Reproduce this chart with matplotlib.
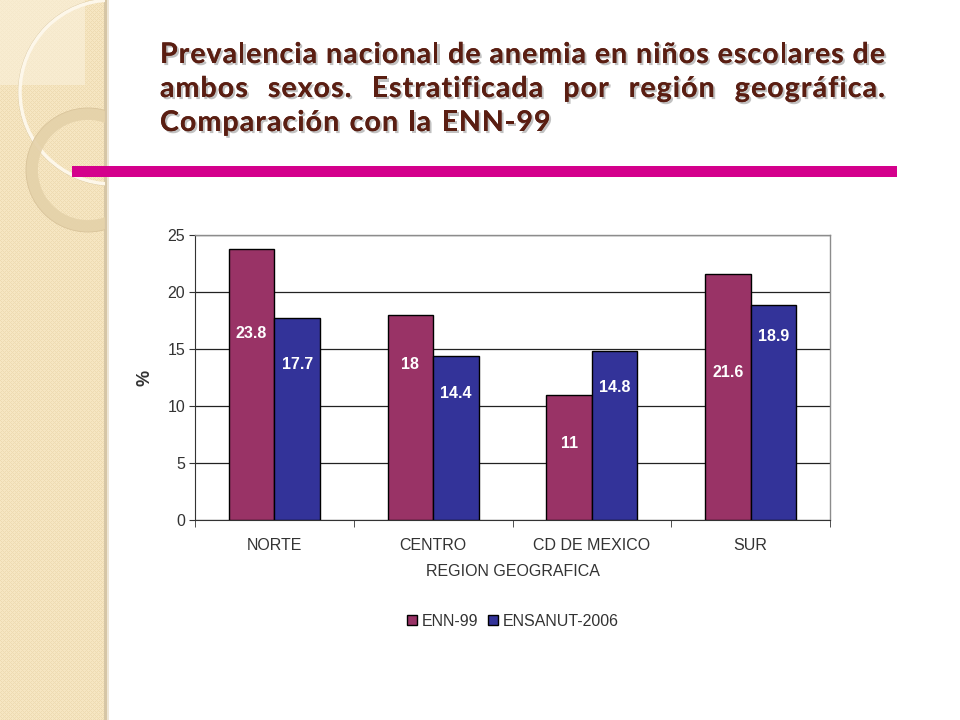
import matplotlib
matplotlib.use("Agg")
import matplotlib.pyplot as plt
import matplotlib.patheffects as pe
from matplotlib.patches import Rectangle, Circle
import numpy as np

# data
regions = ["NORTE", "CENTRO", "CD DE MEXICO", "SUR"]
enn99 = [23.8, 18, 11, 21.6]
ensanut = [17.7, 14.4, 14.8, 18.9]
series_names = ["ENN-99", "ENSANUT-2006"]
# where the value labels sit inside the bars (the original has them placed by hand)
enn99_label_y = [16.4, 13.6, 6.7, 12.95]
ensanut_label_y = [13.6, 11.1, 11.6, 16.1]

title_lines = [
    "Prevalencia nacional de anemia en niños escolares de",
    "ambos sexos. Estratificada por región geográfica.",
    "Comparación con la ENN-99",
]

c_enn = "#993366"
c_ens = "#333399"
title_color = "#5a1e12"

fig = plt.figure(figsize=(9.6, 7.2), dpi=100)
fig.patch.set_facecolor("white")

# --- slide decoration, pixel coordinates ---
bg = fig.add_axes([0, 0, 1, 1], zorder=0)
bg.set_xlim(0, 960)
bg.set_ylim(720, 0)
bg.axis("off")

# beige textured strip on the left
yy, xx = np.mgrid[0:720, 0:105]
tex = ((xx + yy) % 4 == 0) | ((xx - yy) % 4 == 0)
strip = np.zeros((720, 105, 3))
base = np.array([246, 230, 194]) / 255
dark = np.array([238, 219, 178]) / 255
strip[:] = base
strip[tex] = dark
bg.imshow(strip, extent=(0, 105, 720, 0), aspect="auto", zorder=1)
bg.add_patch(Rectangle((0, 0), 85, 85, facecolor="#fbf1dc", alpha=0.6, edgecolor="none", zorder=2))
bg.add_patch(Rectangle((104, 0), 3, 720, facecolor="#d6c6a6", edgecolor="none", zorder=2))
bg.add_patch(Rectangle((107, 0), 2, 720, facecolor="#eee6d6", edgecolor="none", zorder=2))

# circles (clipped to the strip)
clip = Rectangle((0, 0), 105, 720, transform=bg.transData)
c1 = Circle((112, 92), 92, facecolor="none", edgecolor="#fdf7ea", lw=2.5, zorder=3)
c1b = Circle((112, 92), 93.5, facecolor="none", edgecolor="#d9c7a0", lw=0.8, zorder=3)
c2 = Circle((88, 170), 56, facecolor="none", edgecolor="#e4d1a9", lw=8.5, zorder=3, alpha=0.9)
c2b = Circle((88, 170), 62, facecolor="none", edgecolor="#d8c39a", lw=0.6, zorder=3)
for c in (c1b, c1, c2, c2b):
    bg.add_patch(c)
    c.set_clip_path(clip)

# magenta rule under the title
bg.add_patch(Rectangle((72, 166), 825, 11, facecolor="#d4008c", edgecolor="none", zorder=4))

# --- title: slightly letter-spaced and justified like the slide ---
shadow = [pe.withSimplePatchShadow(offset=(1.5, -1.5), shadow_rgbFace="#999999", alpha=0.6), pe.Normal()]
kw = dict(fontsize=20.5, fontweight="bold", family="Lato", color=title_color,
          va="baseline", ha="left", zorder=5)
fig.canvas.draw()
renderer = fig.canvas.get_renderer()
probe = bg.text(0, 0, "", **kw)


def tw(s):
    if not s:
        return 0.0
    probe.set_text(s)
    return probe.get_window_extent(renderer).width


x_left, x_right = 160, 885
baselines = [63, 97, 131]
space_w = tw("a a") - tw("aa") + 2

# tracking chosen so the first line, with ordinary spaces, fills the width
first = title_lines[0].split(" ")
n_first = sum(len(wd) - 1 for wd in first)
nat = sum(tw(wd) for wd in first) + space_w * (len(first) - 1)
track = max(0.0, (x_right - x_left - nat) / n_first)

for i, line in enumerate(title_lines):
    words = line.split(" ")
    widths = [tw(wd) + track * (len(wd) - 1) for wd in words]
    if i < 2:
        gap = (x_right - x_left - sum(widths)) / (len(words) - 1)
    else:
        gap = space_w + 1.5
    x = x_left
    for wd, wdt in zip(words, widths):
        for k, ch in enumerate(wd):
            bg.text(x + tw(wd[:k]) + track * k, baselines[i], ch, path_effects=shadow, **kw)
        x += wdt + gap
probe.remove()

# --- chart ---
plt.rcParams["font.family"] = ["Liberation Sans", "DejaVu Sans"]
ax = fig.add_axes([195 / 960, 1 - 520 / 720, 635 / 960, 285 / 720], zorder=2)
x = np.arange(len(regions))
w = 0.287
b1 = ax.bar(x - w / 2, enn99, w, color=c_enn, edgecolor="black", lw=1, label=series_names[0], zorder=3)
b2 = ax.bar(x + w / 2, ensanut, w, color=c_ens, edgecolor="black", lw=1, label=series_names[1], zorder=3)

for xi, v, ly in zip(x - w / 2, enn99, enn99_label_y):
    ax.text(xi, ly, f"{v:g}", ha="center", va="center", color="white",
            fontweight="bold", fontsize=11.5, zorder=4)
for xi, v, ly in zip(x + w / 2, ensanut, ensanut_label_y):
    ax.text(xi, ly, f"{v:g}", ha="center", va="center", color="white",
            fontweight="bold", fontsize=11.5, zorder=4)

ax.set_xlim(-0.5, len(regions) - 0.5)
ax.set_ylim(0, 25)
ax.set_yticks(range(0, 26, 5))
ax.yaxis.grid(True, color="#222222", lw=0.9, zorder=0)
ax.set_axisbelow(True)

ax.set_xticks(x)
ax.set_xticklabels(regions)
ax.set_xticks(np.arange(-0.5, len(regions)), minor=True)
ax.tick_params(axis="x", which="major", length=0, pad=13, labelsize=11.5, labelcolor="#333333")
ax.tick_params(axis="x", which="minor", length=5, color="#333333", direction="out")
ax.tick_params(axis="y", length=4, color="#333333", labelsize=11.5, labelcolor="#333333", pad=3)

for s in ("top", "right"):
    ax.spines[s].set_color("#8c8c8c")
    ax.spines[s].set_linewidth(1)
ax.spines["left"].set_color("#333333")
ax.spines["bottom"].set_color("#333333")

ax.set_xlabel("REGION GEOGRAFICA", fontsize=11.5, color="#333333", labelpad=8)
ax.set_ylabel("%", fontsize=13, fontweight="bold", color="#333333", labelpad=10)

leg = fig.legend(handles=[b1, b2], loc="center", bbox_to_anchor=(513 / 960, 1 - 621 / 720),
                 ncol=2, frameon=False, fontsize=11.5, handlelength=0.65, handleheight=0.65,
                 handletextpad=0.3, columnspacing=0.6)
for t in leg.get_texts():
    t.set_color("#333333")

fig.savefig("out.png", dpi=100)
